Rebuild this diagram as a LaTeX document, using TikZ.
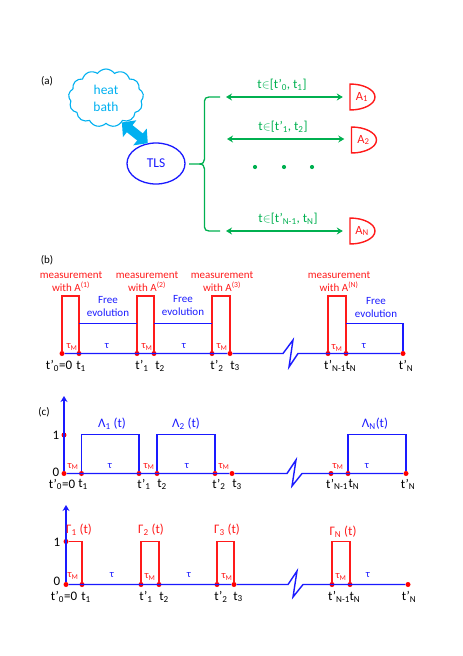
\documentclass[tikz,border=0pt]{standalone}
\usepackage{fontspec}
\setmainfont{Carlito}
\usepackage{xcolor}
\usetikzlibrary{arrows.meta,positioning,shapes.geometric,shapes.symbols}
\definecolor{bathcyan}{HTML}{00B0F0}
\definecolor{armgreen}{HTML}{00B050}
\definecolor{pulsered}{HTML}{FF1A1A}
\definecolor{freeblue}{HTML}{1A1AFF}
\tikzset{
  every node/.style={inner sep=0pt,align=center,font=\fontsize{11}{13}\selectfont},
  redline/.style={draw=pulsered,line width=1.4pt},
  blueline/.style={draw=freeblue,line width=1.4pt},
  armline/.style={draw=armgreen,line width=1.3pt,{Stealth[length=6pt,width=7pt]}-{Stealth[length=6pt,width=7pt]}},
  axisline/.style={blueline,-{Stealth[length=6pt,width=7pt]}},
  tdot/.style={circle,fill=red,minimum size=5pt},
  tlabel/.style={font=\fontsize{13}{15}\selectfont},
  armlabel/.style={text=armgreen,font=\fontsize{13}{15}\selectfont},
  redtext/.style={text=pulsered},
  bluetext/.style={text=freeblue},
  taulabel/.style={text=freeblue,font=\fontsize{10.5}{12}\selectfont},
  taumlabel/.style={text=pulsered,font=\fontsize{10.5}{12}\selectfont}
}
\newcommand{\detector}[4]{%
  \draw[redline] (#2,#3-13) .. controls (#2+14,#3-13) and (#2+25,#3-7) .. (#2+25,#3)
    .. controls (#2+25,#3+7) and (#2+14,#3+13) .. (#2,#3+13) -- cycle;
  \node[text=pulsered,minimum width=24pt,font=\fontsize{12.5}{14}\selectfont] (#1) at (#2+12,#3) {#4};
}
\begin{document}
\begin{tikzpicture}[x=1pt,y=-1pt]
\useasboundingbox (0,0) rectangle (463,656);

% part a
\node (laba) at (47,81) {(a)};
\node (bath) [cloud,cloud puffs=13,cloud puff arc=110,aspect=1.3,draw=bathcyan,line width=1.1pt,
  minimum width=75pt,minimum height=58pt,text=bathcyan,font=\fontsize{13.5}{17}\selectfont] at (106,98) {heat\\bath};
\node (tls) [ellipse,draw=freeblue,line width=1.3pt,minimum width=58pt,minimum height=41pt,
  text=freeblue,font=\fontsize{13.5}{15}\selectfont] at (156,163.5) {TLS};
\draw[bathcyan,line width=9pt,{Triangle[length=10pt,width=21pt]}-{Triangle[length=10pt,width=21pt]}] (bath.-57) -- (tls.112);

\draw[armgreen,line width=1.3pt] (220,97) -- (209,97)
  .. controls (206,97) and (204.5,98.5) .. (204.5,101) -- (204.5,159)
  .. controls (204.5,162) and (203,164) .. (199,164) -- (189,164)
  (199,164) .. controls (203,164) and (204.5,166) .. (204.5,169) -- (204.5,227)
  .. controls (204.5,229.5) and (206,231) .. (209,231) -- (220,231);

\detector{detA}{350}{97}{A\textsubscript{1}}
\detector{detB}{351.5}{140}{A\textsubscript{2}}
\detector{detN}{350}{231}{A\textsubscript{N}}
\coordinate (armA) at (226,97);
\coordinate (armB) at (227,139);
\coordinate (armN) at (226,231);
\draw[armline,shorten >=7pt] (armA) -- (detA);
\draw[armline,shorten >=7pt] (armB) -- (detB.west |- armB);
\draw[armline,shorten >=7pt] (armN) -- (detN);
\node[armlabel] (labA) at (282,85) {t$\in$[t’\textsubscript{0}, t\textsubscript{1}]};
\node[armlabel] (labB) at (283,127) {t$\in$[t’\textsubscript{1}, t\textsubscript{2}]};
\node[armlabel] (labN) at (288,219) {t$\in$[t’\textsubscript{N-1}, t\textsubscript{N}]};
\foreach \x [count=\i] in {255,284,312}
  \node[circle,fill=armgreen,minimum size=4.2pt] (dot\i) at (\x,167) {};

% part b
\node (labb) at (47,260) {(b)};
\foreach \nm/\x in {0/62,1/79,2/137,3/154,4/212,5/230,6/328,7/346,8/403}
  \node[tdot] (b\nm) at (\x,353.5) {};
\draw[blueline] (b0) -- (b5) -- (283,353.5) -- (293,340) -- (289,367) -- (298,353.5) -- (b8);
\foreach \l/\r in {0/1,2/3,4/5,6/7}
  \draw[redline] (b\l) -- ++(0,-57.5) -| (b\r);
\draw[blueline] (b1.north |- 0,323.5) -- (b2.north |- 0,323.5);
\draw[blueline] (b3.north |- 0,323.5) -- (b4.north |- 0,323.5);
\draw[blueline] (b7.north |- 0,323.5) -| (b8);
\foreach \x/\s [count=\i] in {71/(1),147/(2),222/(3),339/(N)}
  \node[redtext] (meas\i) at (\x,281.5) {measurement\\with A\textsuperscript{\s}};
\foreach \x/\y [count=\i] in {108/306.5,183/306,376/307.5}
  \node[bluetext] (free\i) at (\x,\y) {Free\\evolution};
\foreach \x/\y [count=\i] in {72/347,147/347,222/347,337/348}
  \node[taumlabel] (bM\i) at (\x,\y) {τ\textsubscript{M}};
\foreach \x [count=\i] in {107,184,364}
  \node[taulabel] (bT\i) at (\x,346) {τ};
\foreach \x/\t [count=\i] in {59/{t’\textsubscript{0}=0},81/{t\textsubscript{1}},142/{t’\textsubscript{1}},160/{t\textsubscript{2}},217/{t’\textsubscript{2}},235/{t\textsubscript{3}},335/{t’\textsubscript{N-1}},351/{t\textsubscript{N}},406/{t’\textsubscript{N}}}
  \node[tlabel] (bL\i) at (\x,366) {\t};

% part c upper
\node (labc) at (44,412) {(c)};
\foreach \nm/\x in {0/64,1/81.5,2/139,3/157,4/215,5/232,6/331,7/348,8/406}
  \node[tdot] (c\nm) at (\x,473.5) {};
\node[tdot] (cOne) at (64,435) {};
\coordinate (cTip) at (64,396);
\draw[axisline] (c0) -- (cTip);
\draw[blueline] (c0) -- (c5) -- (287,473.5) -- (296,460) -- (292,486) -- (302,473.5) -- (c8);
\foreach \l/\r in {1/2,3/4,7/8}
  \draw[blueline] (c\l) -- ++(0,-39) -| (c\r);
\node[tlabel] (cY1) at (56,435) {1};
\node[tlabel] (cY0) at (56,472) {0};
\node[bluetext,tlabel] (cW1) at (112,424) {Λ\textsubscript{1} (t)};
\node[bluetext,tlabel] (cW2) at (186,424) {Λ\textsubscript{2} (t)};
\node[bluetext,tlabel] (cWN) at (375,424) {Λ\textsubscript{N}(t)};
\foreach \x [count=\i] in {73,149,224,338}
  \node[taumlabel] (cM\i) at (\x,466.5) {τ\textsubscript{M}};
\foreach \x [count=\i] in {110,187,367}
  \node[taulabel] (cT\i) at (\x,466) {τ};
\foreach \x/\t [count=\i] in {62/{t’\textsubscript{0}=0},83/{t\textsubscript{1}},144/{t’\textsubscript{1}},162/{t\textsubscript{2}},219/{t’\textsubscript{2}},237/{t\textsubscript{3}},337/{t’\textsubscript{N-1}},354/{t\textsubscript{N}},408/{t’\textsubscript{N}}}
  \node[tlabel] (cL\i) at (\x,484.5) {\t};

% part c lower
\foreach \nm/\x in {0/66,1/82,2/141,3/159,4/217,5/234,6/332,7/350,8/408}
  \node[tdot] (d\nm) at (\x,584.5) {};
\node[tdot] (dOne) at (66,541.5) {};
\coordinate (dTip) at (66,505);
\draw[axisline] (d0) -- (dTip);
\draw[blueline] (d0) -- (d5) -- (288,584.5) -- (297,571) -- (293,597) -- (303,584.5) -- (d8);
\draw[redline] (dOne) -| (d1);
\foreach \l/\r in {2/3,4/5,6/7}
  \draw[redline] (d\l) -- ++(0,-43) -| (d\r);
\node[tlabel] (dY1) at (57,542) {1};
\node[tlabel] (dY0) at (57,581) {0};
\foreach \x/\y/\s [count=\i] in {79/530/1,151/530/2,227/530/3,343/532/N}
  \node[redtext,tlabel] (dW\i) at (\x,\y) {Γ\textsubscript{\s} (t)};
\foreach \x/\y [count=\i] in {73/576,150/577,227/577,341/577}
  \node[taumlabel] (dM\i) at (\x,\y) {τ\textsubscript{M}};
\foreach \x [count=\i] in {112,189,368}
  \node[taulabel] (dT\i) at (\x,575.5) {τ};
\foreach \x/\t [count=\i] in {64/{t’\textsubscript{0}=0},86/{t\textsubscript{1}},146/{t’\textsubscript{1}},164/{t\textsubscript{2}},221/{t’\textsubscript{2}},238/{t\textsubscript{3}},339/{t’\textsubscript{N-1}},355/{t\textsubscript{N}},409/{t’\textsubscript{N}}}
  \node[tlabel] (dL\i) at (\x,597) {\t};

\end{tikzpicture}
\end{document}
